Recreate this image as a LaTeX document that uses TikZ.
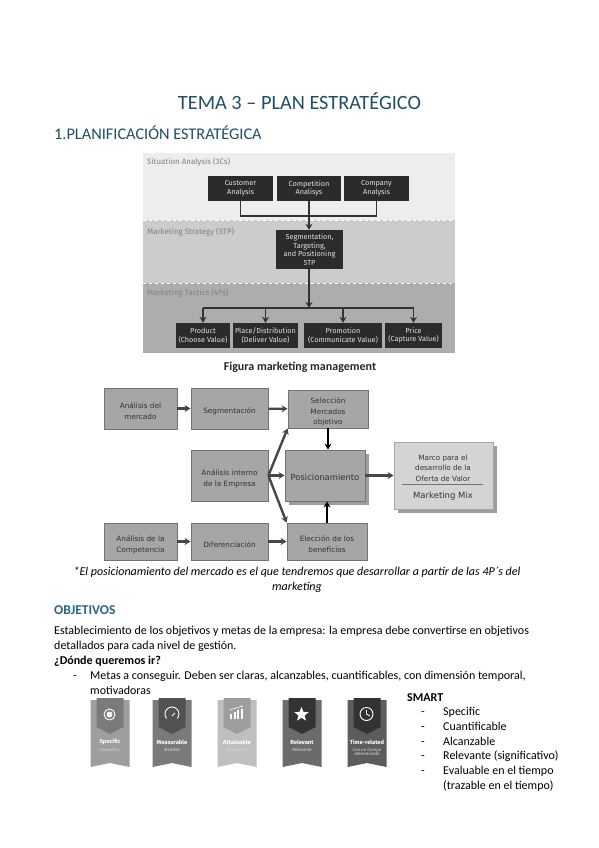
\documentclass[tikz,border=0pt]{standalone}
\usepackage{fontspec}
\setmainfont{Carlito}
\newfontfamily\topfont{Fira Sans}
\newfontfamily\boxfont{DejaVu Sans}
\usetikzlibrary{arrows.meta,shapes.geometric}
\definecolor{titleblue}{HTML}{1F4E66}
\definecolor{headblue}{HTML}{2A6486}
\definecolor{darkbox}{HTML}{2B2B2B}
\definecolor{midbox}{HTML}{A6A6A6}
\definecolor{paleBox}{HTML}{D4D4D4}
\tikzset{
    line/.style={anchor=base west,inner sep=0pt,font=\fontsize{12}{14}\selectfont},
    dark/.style={fill=darkbox,text=white!88!black,align=center,inner sep=0pt,font=\topfont\fontsize{7.3}{8.6}\selectfont},
    band/.style={anchor=west,inner sep=0pt,text=black!50,font=\topfont\fontsize{7.9}{9}\selectfont},
    grey/.style={draw=black!55,fill=midbox,inner sep=0pt,line width=0.8pt},
    greytext/.style={text=black!80,align=center,inner sep=0pt,font=\boxfont\fontsize{7.3}{10.8}\selectfont},
    shadow/.style={fill=black!38},
    flow/.style={->,line width=2.4pt,draw=black!72},
    tree/.style={line width=1.8pt,draw=black!80},
    >={Stealth[length=6pt,width=7pt]}
}
\begin{document}
\begin{tikzpicture}[x=1pt,y=-1pt]
        \useasboundingbox (0,0) rectangle (599,848);
        % headings
            \node[anchor=base,inner sep=0pt,text=titleblue,font=\fontsize{20.3}{24}\selectfont] (title) at (299.5,110) {TEMA 3 – PLAN ESTRATÉGICO};
            \node[line,text=titleblue,font=\fontsize{16.3}{18}\selectfont] (planhead) at (54,139.5) {1.PLANIFICACIÓN ESTRATÉGICA};
        % bands of the first figure
            \fill[black!7] (143,153) rectangle (455,220);
            \fill[black!20] (143,220) rectangle (455,283);
            \fill[black!32] (143,283) rectangle (455,353);
            \draw[white,dashed,line width=0.6pt] (143,220) -- (455,220);
            \draw[white,dashed,line width=0.6pt] (143,283) -- (455,283);
            \foreach \n/\y/\t in {situation/162/Situation Analysis (3Cs),strategy/232/Marketing Strategy (STP),tactics/293/Marketing Tactics (4Ps)}{
                \node[band] (\n) at (147,\y) {\t};
            }
        % boxes of the first figure
            \foreach \n/\x/\y/\w/\h/\t in {
                customer/240.5/188.5/65/25/{Customer\\Analysis},
                competition/309/188.5/64/25/{Competition\\Analisys},
                company/376.5/188.5/65/25/{Company\\Analysis},
                stp/309.5/249.5/67/39/{Segmentation,\\Targeting,\\and Positioning\\STP},
                product/203/335.5/54/25/{Product\\(Choose Value)},
                place/265.5/335.5/65/25/{Place/Distribution\\(Deliver Value)},
                promotion/343/335.5/78/25/{Promotion\\(Communicate Value)},
                price/413.5/335.5/57/25/{Price\\(Capture Value)}}{
                \node[dark,minimum width=\w pt,minimum height=\h pt] (\n) at (\x,\y) {\t};
            }
        % connectors of the first figure
            \coordinate (busa) at (309,216);
            \coordinate (busb) at (309,308);
            \draw[tree] (customer.south) |- (company.south |- busa) -- (company.south);
            \draw[tree] (competition.south) -- (competition.south |- busa);
            \draw[tree,->] (busa) -- (stp.north -| busa);
            \draw[tree,->] (stp.south -| busb) -- (busb);
            \draw[tree] (product.north |- busb) -- (price.north |- busb);
            \foreach \n in {product,place,promotion,price}{
                \draw[tree,->] (\n.north |- busb) -- (\n.north);
            }
            \node[anchor=base,inner sep=0pt,font=\bfseries\fontsize{12}{14}\selectfont,text=black!85] (figura) at (300,370) {Figura marketing management};
        % boxes of the second figure
            \fill[shadow] (289,454) rectangle (369,505);
            \fill[shadow] (398,446) rectangle (497,513);
            \foreach \n/\x/\y/\w/\h/\t in {
                mercado/140.5/408.5/73/41/{Análisis del\\mercado},
                segment/229.5/408.5/77/41/{Segmentación},
                seleccion/328/409/80/38/{Selección\\Mercados\\objetivo},
                interno/229.5/475.5/77/51/{Análisis interno\\de la Empresa},
                competencia/140.5/541.5/73/37/{Análisis de la\\Competencia},
                difer/229.5/541.5/77/37/{Diferenciación},
                eleccion/327/541.5/80/37/{Elección de los\\beneficios}}{
                \node[grey,minimum width=\w pt,minimum height=\h pt] (\n) at (\x,\y) {};
                \node[greytext] (\n text) at (\x,\y+3) {\t};
            }
            \node[grey,minimum width=80pt,minimum height=51pt] (posic) at (325,475.5) {};
            \node[greytext,font=\boxfont\fontsize{8.4}{10}\selectfont] (posictext) at (325,477) {Posicionamiento};
            \node[grey,fill=paleBox,minimum width=99pt,minimum height=67pt,draw=black!35] (marco) at (443.5,475.5) {};
            \node[greytext,font=\boxfont\fontsize{7.2}{10.5}\selectfont] (marcotext) at (443,468) {Marco para el\\desarrollo de la\\Oferta de Valor};
            \node[greytext,font=\boxfont\fontsize{8.5}{10}\selectfont] (mix) at (443,496) {Marketing Mix};
            \coordinate (rulea) at (402,484);
            \coordinate (ruleb) at (483,484);
            \draw[black!55,line width=0.8pt] (rulea) -- (ruleb);
        % connectors of the second figure
            \foreach \a/\b in {mercado/segment,segment/seleccion,competencia/difer,difer/eleccion,interno/posic,posic/marco}{
                \draw[flow] (\a) -- (\b);
            }
            \draw[flow] (interno.east) -- (seleccion.south west);
            \draw[flow] (interno.east) -- (eleccion.north west);
            \draw[flow,draw=black] (seleccion.south) -- (seleccion.south |- posic.north);
            \draw[flow,draw=black] (eleccion.north) -- (eleccion.north |- posic.south);
        % text under the figure
            \node[anchor=base,inner sep=0pt,align=center,font=\itshape\fontsize{12}{15}\selectfont] (note) at (297,575) {*El posicionamiento del mercado es el que tendremos que desarrollar a partir de las 4P´s del};
            \node[anchor=base,inner sep=0pt,font=\itshape\fontsize{12}{15}\selectfont] (notetwo) at (297,590) {marketing};
            \node[line,text=headblue,font=\bfseries\fontsize{13.5}{14}\selectfont] (objetivos) at (54,614) {OBJETIVOS};
            \foreach \n/\x/\y/\t in {
                esta/54/634/Establecimiento de los objetivos y metas de la empresa: la empresa debe convertirse en objetivos,
                deta/54/649/{detallados para cada nivel de gestión.},
                dash/73/679/-,
                metas/90/679/{Metas a conseguir. Deben ser claras, alcanzables, cuantificables, con dimensión temporal,},
                moti/90/694/motivadoras,
                dasha/421/715/-,
                spec/443/715/Specific,
                dashb/421/730/-,
                cuan/443/730/Cuantificable,
                dashc/421/745/-,
                alca/443/745/Alcanzable,
                dashd/421/759/-,
                rele/443/759/Relevante (significativo),
                dashe/421/774/-,
                eval/443/774/Evaluable en el tiempo,
                traz/443/789/(trazable en el tiempo)}{
                \node[line] (\n) at (\x,\y) {\t};
            }
            \node[line,font=\bfseries\fontsize{12}{14}\selectfont] (donde) at (54,664) {¿Dónde queremos ir?};
            \node[line,font=\bfseries\fontsize{12}{14}\selectfont] (smart) at (407,701) {SMART};
        % badges
            \foreach \n/\x/\back/\front/\t/\s in {
                a/110/38/52/Specific/Específico,
                b/172/52/68/Measurable/Medible,
                c/237/25/38/Attainable/Alcanzable,
                d/302/58/80/Relevant/Relevante,
                e/367/64/80/Time-related/{Con un tiempo\\[-1.5pt]determinado}}{
                \begin{scope}[shift={(\x,0)}]
                    \fill[black!\back] (-19.5,700) -- (19.5,700) -- (19.5,767) -- (0,763) -- (-19.5,767) -- cycle;
                    \fill[black!\front] (-13.5,698) -- (13.5,698) -- (13.5,727) -- (0,734) -- (-13.5,727) -- cycle;
                    \node[inner sep=0pt,text=white,font=\topfont\bfseries\fontsize{5.8}{6}\selectfont] (name\n) at (0,742) {\t};
                    \node[inner sep=0pt,anchor=north,align=center,text=white!85!black,font=\topfont\itshape\fontsize{4.4}{5}\selectfont] (sub\n) at (0,748) {\s};
                \end{scope}
            }
        % icons
            \draw[white,line width=0.9pt] (109.5,714.5) circle (5.5);
            \fill[white] (109.5,714.5) circle (3);
            \draw[white,line width=0.9pt] (166.6,718.5) arc[start angle=140,end angle=400,radius=7];
            \draw[white,line width=0.9pt] (172,716) -- (175,713);
            \fill[white] (230,719) rectangle (232,713.5);
            \fill[white] (233.5,719) rectangle (235.5,711.5);
            \fill[white] (237,719) rectangle (239,710);
            \fill[white] (240.5,719) rectangle (242.5,708.5);
            \draw[white,line width=0.6pt,-{Stealth[length=2.5pt]}] (229.5,710) -- (243,706);
            \node[star,star points=5,star point ratio=2.3,fill=white,inner sep=0pt,minimum size=15pt] (stariconpic) at (301.5,714.5) {};
            \draw[white,line width=0.9pt] (366.5,714) circle (6.5);
            \draw[white,line width=0.8pt] (366.5,710) -- (366.5,714) -- (370,716);
        \end{tikzpicture}
\end{document}
